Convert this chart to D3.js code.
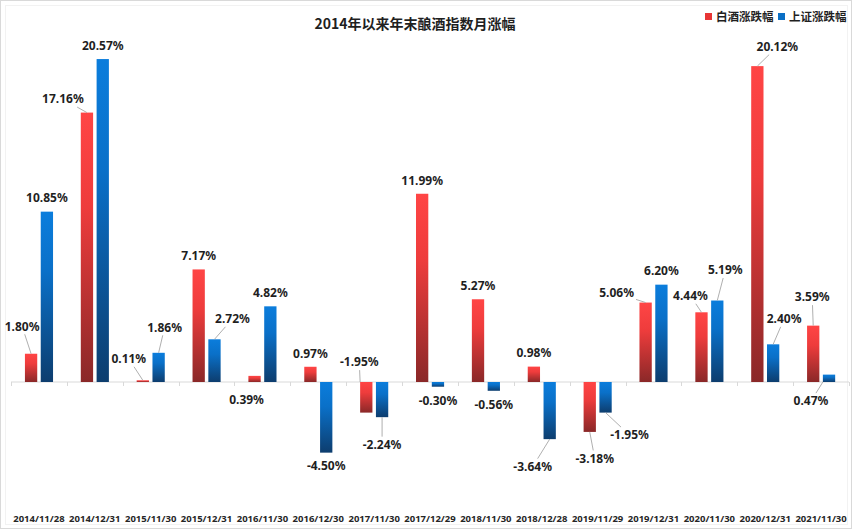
<!DOCTYPE html>
<html>
<head>
<meta charset="utf-8">
<script src="https://cdn.jsdelivr.net/npm/d3@7/dist/d3.min.js"></script>
<style>
  html, body { margin: 0; padding: 0; background: #ffffff; }
  svg { display: block; }
  text { font-family: "Noto Sans CJK SC", "Noto Sans", sans-serif; }
  text.num { font-family: "Noto Sans", "Noto Sans CJK SC", sans-serif; }
</style>
</head>
<body>
<svg id="chart" width="860" height="531"></svg>
<script>
// ---- data ----
const categories = ["2014/11/28","2014/12/31","2015/11/30","2015/12/31","2016/11/30","2016/12/30","2017/11/30","2017/12/29","2018/11/30","2018/12/28","2019/11/29","2019/12/31","2020/11/30","2020/12/31","2021/11/30"];
const baijiu = [1.80, 17.16, 0.11, 7.17, 0.39, 0.97, -1.95, 11.99, 5.27, 0.98, -3.18, 5.06, 4.44, 20.12, 3.59];
const shangzheng = [10.85, 20.57, 1.86, 2.72, 4.82, -4.50, -2.24, -0.30, -0.56, -3.64, -1.95, 6.20, 5.19, 2.40, 0.47];
const seriesNames = ["白酒涨跌幅", "上证涨跌幅"];
const title = "2014年以来年末酿酒指数月涨幅";

// label layout tweaks (dx, dy, leader line) relative to default label spot
const redLabelShift = [[-9,-14,1],[-24,0,1],[-14,-8,1],[0,0,0],[-8,37,0],[0,0,0],[-7,-64,1],[0,0,0],[0,0,0],[0,0,0],[5,13,1],[-29,4,1],[-11,-3,1],[20,-6,1],[-1,-15,1]];
const blueLabelShift = [[0,0,0],[0,0,0],[6,-12,1],[18,-7,1],[0,0,0],[0,0,0],[0,14,1],[0,0,0],[0,0,0],[-17,14,1],[24,9,1],[0,0,0],[8,-17,1],[11,-12,1],[-18,40,1]];

// ---- chart ----
const svg = d3.select("#chart");

// frame
svg.append("rect").attr("x",0.5).attr("y",0.5).attr("width",851).attr("height",528)
  .attr("fill","#ffffff").attr("stroke","#d9d9d9");
svg.append("rect").attr("x",5.5).attr("y",5.5).attr("width",842).attr("height",519)
  .attr("fill","none").attr("stroke","#f2f2f2");

// gradients
const defs = svg.append("defs");
function grad(id, c0, c1, c2) {
  const g = defs.append("linearGradient").attr("id", id)
    .attr("x1",0).attr("y1",0).attr("x2",0).attr("y2",1);
  g.append("stop").attr("offset","0%").attr("stop-color",c0);
  g.append("stop").attr("offset","35%").attr("stop-color",c1);
  g.append("stop").attr("offset","100%").attr("stop-color",c2);
}
grad("gRed", "#ff4545", "#ee3c3c", "#8a2828");
grad("gBlue", "#0b7ddc", "#0a70c8", "#0d3d6e");

const x = d3.scaleBand().domain(categories).range([11, 849]).paddingInner(0).paddingOuter(0);
const bw = x.bandwidth();
const xs = d3.scaleBand().domain(["r","b"]).range([bw/2 - 14, bw/2 + 14.1]).paddingInner(0.222).paddingOuter(0);
const k = 15.7;
const y = d3.scaleLinear().domain([-8, 22]).range([382 + 8*k, 382 - 22*k]);

// zero line + ticks
svg.append("line").attr("x1", 11).attr("x2", 849).attr("y1", y(0)).attr("y2", y(0))
  .attr("stroke", "#d9d9d9").attr("stroke-width", 1);
const tickXs = categories.map(c => x(c)).concat([x(categories[categories.length-1]) + bw]);
svg.selectAll("line.tick").data(tickXs).enter().append("line")
  .attr("x1", d => Math.round(d)+0.5).attr("x2", d => Math.round(d)+0.5)
  .attr("y1", y(0)).attr("y2", y(0)+4).attr("stroke", "#d9d9d9");

// title
svg.append("text").attr("x", 415).attr("y", 29).attr("text-anchor","middle")
  .attr("font-size", 14).attr("font-weight", "bold").attr("fill", "#1f1f1f").text(title);

// legend
const legend = [{name: seriesNames[0], fill: "#e83535", x: 705}, {name: seriesNames[1], fill: "#0a6fc5", x: 778}];
legend.forEach(l => {
  svg.append("rect").attr("x", l.x).attr("y", 13).attr("width", 7).attr("height", 7).attr("fill", l.fill);
  svg.append("text").attr("x", l.x + 11).attr("y", 21).attr("font-size", 11.5).attr("font-weight","bold")
    .attr("fill", "#1f1f1f").text(l.name);
});

// bars
const series = [
  {key: "r", values: baijiu, fill: "url(#gRed)", shift: redLabelShift},
  {key: "b", values: shangzheng, fill: "url(#gBlue)", shift: blueLabelShift}
];
const fmt = v => d3.format(".2f")(v).replace("\u2212", "-") + "%";
const gBars = svg.append("g");
const gLead = svg.append("g");
const gLab = svg.append("g");

series.forEach(s => {
  const data = s.values.map((v, i) => ({v, i, c: categories[i]}));
  gBars.selectAll("rect.b" + s.key).data(data).enter().append("rect")
    .attr("x", d => x(d.c) + xs(s.key))
    .attr("y", d => y(Math.max(0, d.v)))
    .attr("width", xs.bandwidth())
    .attr("height", d => Math.abs(y(d.v) - y(0)))
    .attr("fill", s.fill);

  data.forEach(d => {
    const bx = x(d.c) + xs(s.key), bwid = xs.bandwidth();
    const cx = bx + bwid/2;
    const endY = y(d.v);
    const defY = d.v >= 0 ? endY - 13.5 : endY + 13.5;
    const sh = s.shift[d.i];
    const lx = cx + sh[0], ly = defY + sh[1];
    const t = gLab.append("text").attr("class", "num").attr("x", lx).attr("y", ly).attr("dy", "0.36em")
      .attr("text-anchor", "middle").attr("font-size", 12).attr("font-weight", "bold")
      .attr("fill", "#1f1f1f").text(fmt(d.v));
    if (sh[2]) {
      const tw = t.node().getComputedTextLength();
      const hw = tw/2 + 2, hh = 8;
      let ax = cx, ay = endY;
      const top = Math.min(y(0), endY), bot = Math.max(y(0), endY);
      const labelOpposite = (d.v >= 0 && ly > y(0)) || (d.v < 0 && ly < y(0));
      if (labelOpposite) {
        ax = Math.max(bx, Math.min(bx + bwid, lx));
        ay = Math.max(top, Math.min(bot, ly));
      }
      const ddx = ax - lx, ddy = ay - ly;
      const tt = Math.min(Math.abs(ddx) > 0 ? hw/Math.abs(ddx) : Infinity, Math.abs(ddy) > 0 ? hh/Math.abs(ddy) : Infinity);
      if (tt < 1) {
        gLead.append("line").attr("x1", lx + ddx*tt).attr("y1", ly + ddy*tt)
          .attr("x2", ax).attr("y2", ay).attr("stroke", "#a6a6a6").attr("stroke-width", 0.9);
      }
    }
  });
});

// x axis labels
svg.selectAll("text.cat").data(categories).enter().append("text")
  .attr("class", "num")
  .attr("x", d => x(d) + bw/2).attr("y", 522).attr("text-anchor", "middle")
  .attr("font-size", 9.5).attr("font-weight", "bold").attr("fill", "#262626").text(d => d);
</script>
</body>
</html>
